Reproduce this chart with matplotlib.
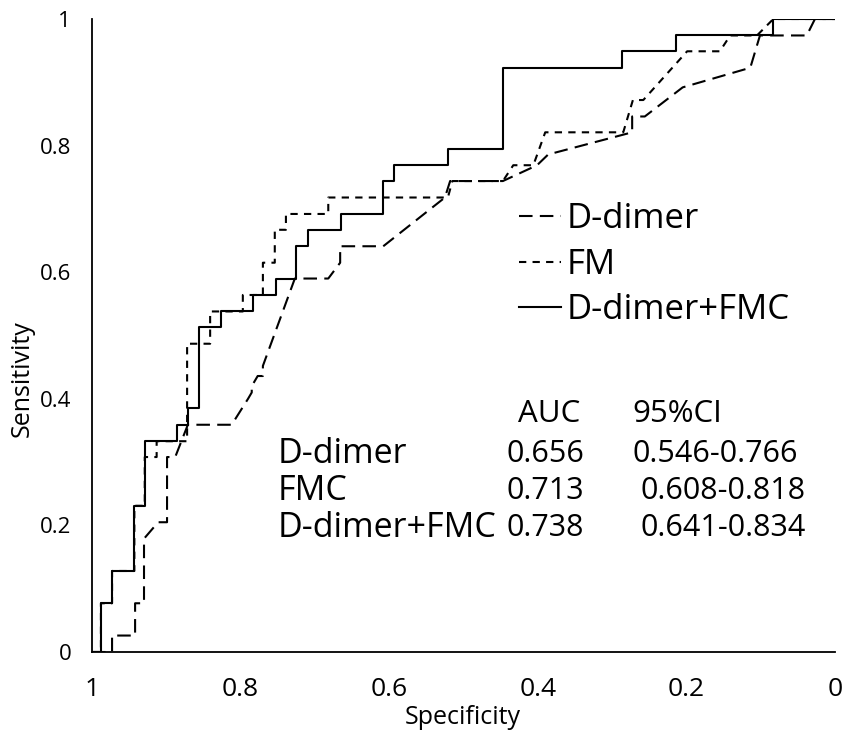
import matplotlib
matplotlib.use("Agg")
import matplotlib.pyplot as plt

plt.rcParams['font.family'] = ['Open Sans', 'DejaVu Sans']

# D-dimer + FMC (solid, step curve, steps-post order)
combo_spec = [1.0, 0.988, 0.973, 0.943, 0.929, 0.886, 0.871, 0.856, 0.826, 0.783, 0.752,
              0.725, 0.709, 0.665, 0.608, 0.594, 0.521, 0.447, 0.287, 0.214, 0.083, 0.0]
combo_sens = [0.0, 0.077, 0.128, 0.231, 0.333, 0.359, 0.385, 0.513, 0.538, 0.564, 0.590,
              0.641, 0.667, 0.692, 0.744, 0.769, 0.795, 0.923, 0.949, 0.974, 1.0, 1.0]

# D-dimer (long dash), vertices of the curve
dd_spec = [1.0, 0.973, 0.973, 0.942, 0.942, 0.930, 0.930, 0.911, 0.899, 0.899, 0.888, 0.871,
           0.812, 0.790, 0.785, 0.785, 0.777, 0.770, 0.770, 0.727, 0.682, 0.666, 0.666, 0.608,
           0.525, 0.518, 0.447, 0.401, 0.386, 0.273, 0.273, 0.256, 0.205, 0.114, 0.101, 0.038,
           0.027, 0.0]
dd_sens = [0.0, 0.0, 0.026, 0.026, 0.077, 0.077, 0.179, 0.205, 0.205, 0.308, 0.308, 0.359,
           0.359, 0.400, 0.410, 0.420, 0.436, 0.436, 0.452, 0.590, 0.590, 0.615, 0.641, 0.641,
           0.718, 0.744, 0.744, 0.769, 0.786, 0.821, 0.846, 0.846, 0.892, 0.923, 0.974, 0.974,
           1.0, 1.0]

# FM (short dash), vertices of the curve
fm_spec = [1.0, 0.988, 0.988, 0.973, 0.973, 0.943, 0.943, 0.929, 0.929, 0.913, 0.913, 0.872,
           0.872, 0.841, 0.841, 0.797, 0.797, 0.770, 0.770, 0.754, 0.754, 0.739, 0.739, 0.682,
           0.682, 0.521, 0.515, 0.447, 0.433, 0.406, 0.390, 0.285, 0.272, 0.258, 0.199, 0.155,
           0.141, 0.105, 0.083, 0.0]
fm_sens = [0.0, 0.0, 0.077, 0.077, 0.128, 0.128, 0.231, 0.231, 0.308, 0.308, 0.333, 0.333,
           0.487, 0.487, 0.538, 0.538, 0.564, 0.564, 0.615, 0.615, 0.667, 0.667, 0.692, 0.692,
           0.718, 0.718, 0.744, 0.744, 0.769, 0.769, 0.821, 0.821, 0.872, 0.872, 0.949, 0.949,
           0.974, 0.974, 1.0, 1.0]

ticks = [1, 0.8, 0.6, 0.4, 0.2, 0]
tick_labels = ['1', '0.8', '0.6', '0.4', '0.2', '0']

table_rows = ['D-dimer', 'FMC', 'D-dimer+FMC']
table_auc = ['0.656', '0.713', '0.738']
table_ci = ['0.546-0.766', '0.608-0.818', '0.641-0.834']

W, H = 848, 738
fig = plt.figure(figsize=(W / 100, H / 100), dpi=100)
ax = fig.add_axes([92 / W, 1 - 652 / H, (835 - 92) / W, (652 - 19) / H])

ax.plot(dd_spec, dd_sens, color='black', lw=1.5, dashes=(6.5, 3.5), label='D-dimer')
ax.plot(fm_spec, fm_sens, color='black', lw=1.5, dashes=(3.5, 3), label='FM')
ax.plot(combo_spec, combo_sens, color='black', lw=1.5, drawstyle='steps-post', label='D-dimer+FMC')

ax.set_xlim(1, 0)
ax.set_ylim(0, 1)
ax.set_xticks(ticks)
ax.set_xticklabels(tick_labels, fontsize=19)
ax.set_yticks(ticks)
ax.set_yticklabels(tick_labels, fontsize=16)
ax.tick_params(length=0)
ax.tick_params(axis='x', pad=18)
ax.tick_params(axis='y', pad=15)
for side in ['top', 'right']:
    ax.spines[side].set_visible(False)
for side in ['left', 'bottom']:
    ax.spines[side].set_linewidth(1.3)

fig.text(463 / W, 1 - 718 / H, 'Specificity', fontsize=18, ha='center', va='center')
fig.text(22 / W, 1 - 379 / H, 'Sensitivity', fontsize=18, ha='center', va='center', rotation=90)

ax.legend(loc='upper left', bbox_to_anchor=(502 / W, 1 - 185 / H), bbox_transform=fig.transFigure,
          frameon=False, fontsize=25, handlelength=1.2, handletextpad=0.15, labelspacing=0.33,
          borderpad=0)

# AUC table
fig.text(518 / W, 1 - 414 / H, 'AUC', fontsize=22.5, ha='left', va='center')
fig.text(632 / W, 1 - 414 / H, '95%CI', fontsize=22.5, ha='left', va='center')
row_y = [454, 491, 528]
ci_x = [633, 640, 640]
for i in range(len(table_rows)):
    fig.text(278 / W, 1 - row_y[i] / H, table_rows[i], fontsize=24.5, ha='left', va='center')
    fig.text(507 / W, 1 - row_y[i] / H, table_auc[i], fontsize=22, ha='left', va='center')
    fig.text(ci_x[i] / W, 1 - row_y[i] / H, table_ci[i], fontsize=22, ha='left', va='center')

fig.savefig('out.png', dpi=100)
